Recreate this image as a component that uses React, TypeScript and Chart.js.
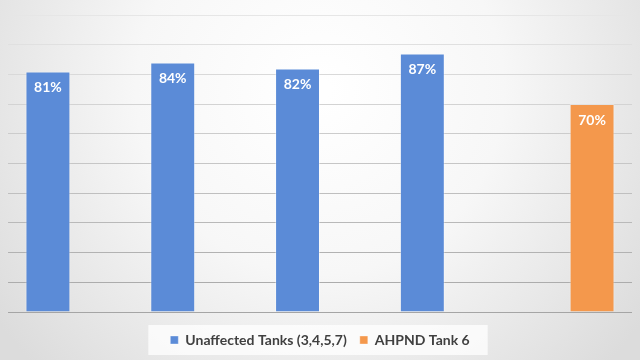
import React, { useEffect, useRef } from "react";
import { Chart, registerables } from "chart.js";

Chart.register(...registerables);

const categories = ["Tank 3", "Tank 4", "Tank 5", "Tank 7", "Tank 6"];
const unaffectedValues: (number | null)[] = [81, 84, 82, 87, null];
const ahpndValues: (number | null)[] = [null, null, null, null, 70];
const seriesNames = ["Unaffected Tanks (3,4,5,7)", "AHPND Tank 6"];
const yMin = 0;
const yMax = 100;
const yStep = 10;

const BLUE = "#5b8bd7";
const ORANGE = "#f4984c";
const FONT = "Lato, 'Open Sans', sans-serif";

const backgroundPlugin = {
  id: "bgAndLegendBox",
  beforeDraw(chart: any) {
    const { ctx, width, height } = chart;
    ctx.save();
    const g = ctx.createRadialGradient(width / 2, height * 0.25, 10, width / 2, height * 0.25, width * 0.62);
    g.addColorStop(0, "#ffffff");
    g.addColorStop(0.45, "#f7f7f7");
    g.addColorStop(1, "#dcdcdc");
    ctx.fillStyle = g;
    ctx.fillRect(0, 0, width, height);
    const legend = chart.legend;
    if (legend && legend.legendHitBoxes && legend.legendHitBoxes.length) {
      const boxes = legend.legendHitBoxes;
      let l = Infinity, r = -Infinity, t = Infinity, b = -Infinity;
      boxes.forEach((h: any) => {
        l = Math.min(l, h.left);
        r = Math.max(r, h.left + h.width);
        t = Math.min(t, h.top);
        b = Math.max(b, h.top + h.height);
      });
      ctx.fillStyle = "rgba(255,255,255,0.75)";
      ctx.fillRect(l - 22, t - 8, r - l + 40, b - t + 16);
    }
    ctx.restore();
  },
};

const labelPlugin = {
  id: "barLabels",
  afterDatasetsDraw(chart: any) {
    const { ctx } = chart;
    ctx.save();
    ctx.fillStyle = "#ffffff";
    ctx.font = `bold 14px ${FONT}`;
    ctx.textAlign = "center";
    ctx.textBaseline = "middle";
    chart.data.datasets.forEach((ds: any, i: number) => {
      const meta = chart.getDatasetMeta(i);
      meta.data.forEach((bar: any, j: number) => {
        const v = ds.data[j];
        if (v === null || v === undefined) return;
        ctx.fillText(`${v}%`, bar.x, bar.y + 16);
      });
    });
    ctx.restore();
  },
};

export default function App() {
  const canvasRef = useRef<HTMLCanvasElement | null>(null);

  useEffect(() => {
    document.body.style.margin = "0";
    const canvas = canvasRef.current;
    if (!canvas) return;
    const chart = new Chart(canvas, {
      type: "bar",
      data: {
        labels: categories,
        datasets: [
          {
            label: seriesNames[0],
            data: unaffectedValues,
            backgroundColor: BLUE,
            borderColor: "rgba(255,255,255,0.35)",
            borderWidth: 1,
          },
          {
            label: seriesNames[1],
            data: ahpndValues,
            backgroundColor: ORANGE,
            borderColor: "rgba(255,255,255,0.35)",
            borderWidth: 1,
          },
        ],
      },
      options: {
        animation: false,
        responsive: true,
        maintainAspectRatio: false,
        layout: { padding: { left: 8, right: 8, top: 15, bottom: 3 } },
        datasets: {
          bar: { categoryPercentage: 0.72, barPercentage: 1.0 },
        },
        scales: {
          x: {
            display: true,
            grid: { display: false },
            border: { display: false },
            ticks: { display: false },
          },
          y: {
            min: yMin,
            max: yMax,
            ticks: { display: false, stepSize: yStep },
            border: { display: false },
            grid: {
              drawTicks: false,
              lineWidth: 1,
              color: (c: any) => {
                const v = c.tick ? c.tick.value : 0;
                const t = (v - yMin) / (yMax - yMin);
                const shade = Math.round(165 + t * 65);
                return `rgb(${shade},${shade},${shade})`;
              },
            },
          },
        },
        plugins: {
          legend: {
            position: "bottom",
            labels: {
              boxWidth: 8,
              boxHeight: 8,
              padding: 13,
              color: "#404040",
              font: { family: FONT, size: 14, weight: "bold" },
            },
          },
          tooltip: { enabled: false },
        },
      },
      plugins: [backgroundPlugin, labelPlugin],
    });
    return () => chart.destroy();
  }, []);

  return (
    <div style={{ position: "relative", width: 640, height: 360 }}>
      <canvas ref={canvasRef} />
    </div>
  );
}
